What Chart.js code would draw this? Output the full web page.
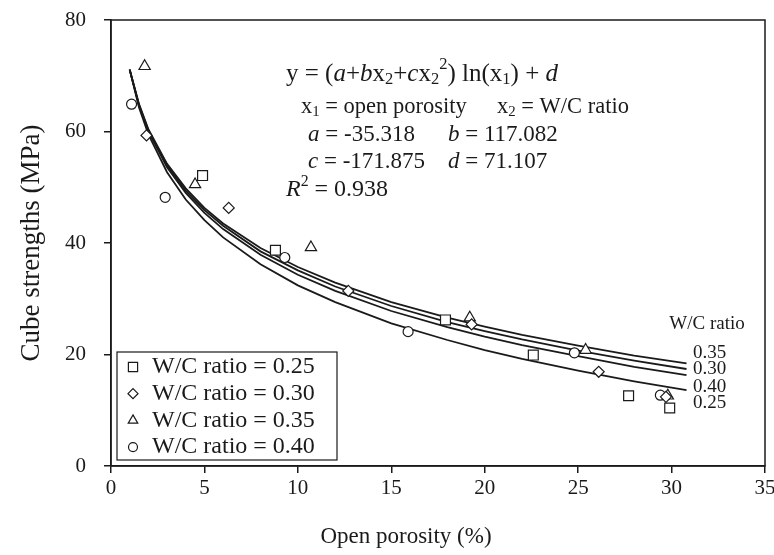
<!DOCTYPE html>
<html>
<head>
<meta charset="utf-8">
<script src="https://cdn.jsdelivr.net/npm/chart.js@4.4.1/dist/chart.umd.min.js"></script>
<style>
  html, body { margin: 0; padding: 0; background: #fff; }
  #wrap { width: 774px; height: 555px; position: relative; }
</style>
</head>
<body>
<div id="wrap"><canvas id="chart"></canvas></div>
<script>
// dados
const ratios = ['0.25', '0.30', '0.35', '0.40'];
const xTicks = [0, 5, 10, 15, 20, 25, 30, 35];
const yTicks = [0, 20, 40, 60, 80];

// pontos medidos (porosidade aberta %, resistência MPa)
const poro025 = [4.9, 8.8, 17.9, 22.6, 27.7, 29.9];
const res025  = [52.1, 38.7, 26.2, 19.9, 12.6, 10.4];
const poro030 = [1.9, 6.3, 12.7, 19.3, 26.1, 29.7];
const res030  = [59.3, 46.3, 31.4, 25.4, 16.9, 12.4];
const poro035 = [1.8, 4.5, 10.7, 19.2, 25.4, 29.8];
const res035  = [71.7, 50.5, 39.2, 26.6, 20.8, 12.6];
const poro040 = [1.1, 2.9, 9.3, 15.9, 24.8, 29.4];
const res040  = [64.9, 48.2, 37.4, 24.1, 20.3, 12.7];

// curvas ajustadas (lidas ao longo das linhas)
const curveX   = [1.0, 1.5, 2, 3, 4, 5, 6, 8, 10, 12, 15, 18, 20, 22, 25, 28, 30.8];
const curve025 = [71.1, 64.3, 59.5, 52.7, 47.8, 44.1, 41.0, 36.2, 32.4, 29.4, 25.6, 22.6, 20.8, 19.2, 17.1, 15.2, 13.6];
const curve030 = [71.1, 64.8, 60.2, 53.9, 49.4, 45.9, 43.1, 38.5, 35.1, 32.2, 28.7, 25.8, 24.2, 22.7, 20.7, 18.9, 17.4];
const curve035 = [71.1, 64.9, 60.4, 54.2, 49.8, 46.3, 43.5, 39.1, 35.7, 32.9, 29.4, 26.6, 25.0, 23.5, 21.6, 19.8, 18.4];
const curve040 = [71.1, 64.6, 60.0, 53.6, 49.0, 45.4, 42.5, 37.9, 34.3, 31.4, 27.8, 24.9, 23.2, 21.7, 19.7, 17.8, 16.3];

const SERIF = '"Liberation Serif", "Times New Roman", serif';
const INK = '#1a1a1a';

const pts = (xs, ys) => xs.map((x, i) => ({ x, y: ys[i] }));

const markers = [
  { style: 'rect', r: 7, lr: 6.5 },
  { style: 'rectRot', r: 5.5, lr: 5 },
  { style: 'triangle', r: 6.5, lr: 5.5 },
  { style: 'circle', r: 5, lr: 4.5 },
];

function curveDs(ys) {
  return { type: 'line', data: pts(curveX, ys), borderColor: INK, borderWidth: 1.8, pointRadius: 0, fill: false, tension: 0, order: 2 };
}
function pointDs(xs, ys, m, label) {
  return { type: 'scatter', label, data: pts(xs, ys), pointStyle: m.style, pointRadius: m.r, pointHoverRadius: m.r,
    backgroundColor: '#fff', borderColor: INK, pointBorderWidth: 1.2, order: 1 };
}

// texto com itálico / índices
function drawRuns(ctx, x, y, runs, size) {
  let cx = x;
  runs.forEach(([t, s]) => {
    let fs = size, dy = 0, it = '';
    if (s === 'i') it = 'italic ';
    if (s === 'sub') { fs = size * 0.66; dy = size * 0.22; }
    if (s === 'sup') { fs = size * 0.66; dy = -size * 0.36; }
    ctx.font = it + fs + 'px ' + SERIF;
    ctx.fillText(t, cx, y + dy);
    cx += ctx.measureText(t).width;
  });
}

const overlay = {
  id: 'overlay',
  afterDraw(chart) {
    const { ctx, chartArea: a } = chart;
    ctx.save();
    // moldura
    ctx.strokeStyle = INK; ctx.lineWidth = 1.5;
    ctx.strokeRect(a.left, a.top, a.right - a.left, a.bottom - a.top);

    ctx.fillStyle = INK; ctx.textBaseline = 'middle'; ctx.textAlign = 'left';
    drawRuns(ctx, 286, 74, [['y = (', ''], ['a', 'i'], ['+', ''], ['b', 'i'], ['x', ''], ['2', 'sub'], ['+', ''], ['c', 'i'], ['x', ''], ['2', 'sub'], ['2', 'sup'], [') ln(x', ''], ['1', 'sub'], [') + ', ''], ['d', 'i']], 25);
    drawRuns(ctx, 301, 107, [['x', ''], ['1', 'sub'], [' = open porosity', '']], 22.5);
    drawRuns(ctx, 497, 107, [['x', ''], ['2', 'sub'], [' = W/C ratio', '']], 22.5);
    drawRuns(ctx, 308, 135, [['a', 'i'], [' = -35.318', '']], 23);
    drawRuns(ctx, 448, 135, [['b', 'i'], [' = 117.082', '']], 23);
    drawRuns(ctx, 308, 162, [['c', 'i'], [' = -171.875', '']], 23);
    drawRuns(ctx, 448, 162, [['d', 'i'], [' = 71.107', '']], 23);
    drawRuns(ctx, 286, 190, [['R', 'i'], ['2', 'sup'], [' = 0.938', '']], 24);

    // rótulos no fim das curvas
    ctx.font = '19px ' + SERIF;
    ctx.textAlign = 'center';
    ctx.fillText('W/C ratio', 707, 324);
    ctx.textAlign = 'left';
    [['0.35', 353], ['0.30', 369], ['0.40', 387], ['0.25', 403]].forEach(([t, y]) => ctx.fillText(t, 693, y));

    // título do eixo x
    ctx.textAlign = 'center';
    ctx.font = '23px ' + SERIF;
    ctx.fillText('Open porosity (%)', 406, 537);

    // legenda
    ctx.textAlign = 'left';
    const lx = 117, ly = 352, lw = 220, lh = 108;
    ctx.fillStyle = '#fff'; ctx.fillRect(lx, ly, lw, lh);
    ctx.strokeStyle = INK; ctx.lineWidth = 1.2; ctx.strokeRect(lx, ly, lw, lh);
    ratios.forEach((r, i) => {
      const y = ly + 15 + i * 26.7;
      ctx.fillStyle = '#fff'; ctx.strokeStyle = INK; ctx.lineWidth = 1.2;
      Chart.helpers.drawPoint(ctx, { pointStyle: markers[i].style, radius: markers[i].lr, borderWidth: 1.2 }, 133, y);
      ctx.fillStyle = INK; ctx.font = '24px ' + SERIF;
      ctx.fillText('W/C ratio = ' + r, 152, y);
    });
    ctx.restore();
  }
};

new Chart(document.getElementById('chart'), {
  data: {
    datasets: [
      curveDs(curve025), curveDs(curve030), curveDs(curve035), curveDs(curve040),
      pointDs(poro025, res025, markers[0], 'W/C ratio = 0.25'),
      pointDs(poro030, res030, markers[1], 'W/C ratio = 0.30'),
      pointDs(poro035, res035, markers[2], 'W/C ratio = 0.35'),
      pointDs(poro040, res040, markers[3], 'W/C ratio = 0.40'),
    ],
  },
  options: {
    responsive: true, maintainAspectRatio: false, animation: false,
    layout: { padding: { left: 0, right: 9, top: 20, bottom: 0 } },
    plugins: { legend: { display: false }, tooltip: { enabled: false } },
    scales: {
      x: {
        type: 'linear', min: 0, max: 35,
        afterBuildTicks: s => { s.ticks = xTicks.map(v => ({ value: v })); },
        afterFit: s => { s.height = 89; s.paddingLeft = 0; s.paddingRight = 0; },
        grid: { drawOnChartArea: false, drawTicks: true, tickLength: 7, color: INK, lineWidth: 1.5 },
        border: { color: INK, width: 1.5 },
        ticks: { color: INK, padding: 3, font: { family: SERIF, size: 21 }, maxRotation: 0 },
        title: { display: false },
      },
      y: {
        type: 'linear', min: 0, max: 80,
        afterBuildTicks: s => { s.ticks = yTicks.map(v => ({ value: v })); },
        afterFit: s => { s.width = 111; s.paddingTop = 0; s.paddingBottom = 0; },
        grid: { drawOnChartArea: false, drawTicks: true, tickLength: 7, color: INK, lineWidth: 1.5 },
        border: { color: INK, width: 1.5 },
        ticks: { color: INK, padding: 18, font: { family: SERIF, size: 21 } },
        title: { display: true, text: 'Cube strengths (MPa)', color: INK, padding: { top: 16, bottom: 0 }, font: { family: SERIF, size: 27, lineHeight: 1.2 } },
      },
    },
  },
  plugins: [overlay],
});
</script>
</body>
</html>
